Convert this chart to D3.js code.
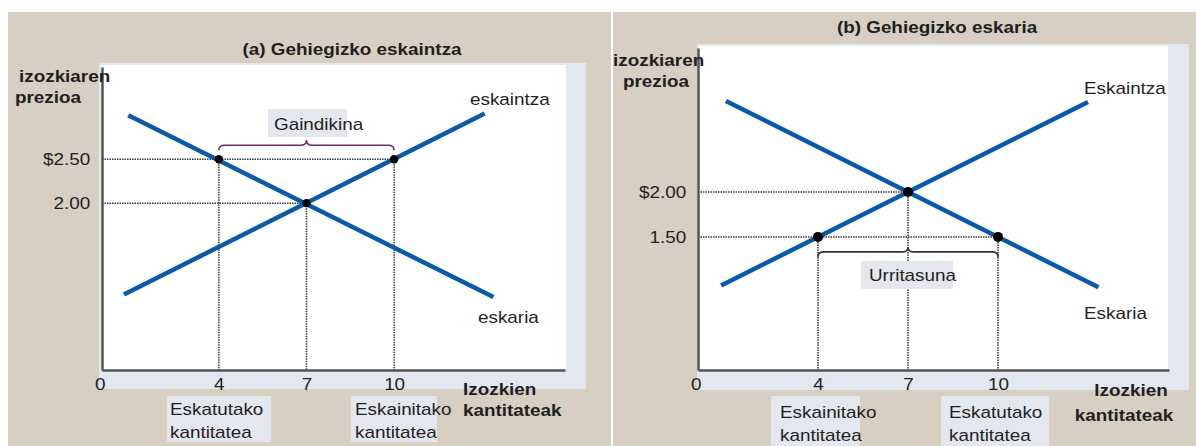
<!DOCTYPE html>
<html>
<head>
<meta charset="utf-8">
<script src="https://cdn.jsdelivr.net/npm/d3@7/dist/d3.min.js"></script>
<style>
  html, body { margin: 0; padding: 0; background: #fff; }
  svg { display: block; }
  text { font-family: "Liberation Sans", Arial, sans-serif; fill: #1f1f1f; }
</style>
</head>
<body>
<svg id="main" width="1196" height="446"></svg>
<script>
// data
var qTicks = [0, 4, 7, 10];
var titles = ["(a) Gehiegizko eskaintza", "(b) Gehiegizko eskaria"];
var priceTicksA = [2.5, 2.0];
var priceLabelsA = ["$2.50", "2.00"];
var priceTicksB = [2.0, 1.5];
var priceLabelsB = ["$2.00", "1.50"];
var supplyA = [[0.75, 0.96], [13.1, 3.02]];
var demandA = [[0.9, 3.0], [13.4, 0.93]];
var pointsA = [[4, 2.5], [10, 2.5], [7, 2.0]];
var supplyB = [[0.77, 0.96], [13.0, 3.0]];
var demandB = [[0.93, 3.01], [13.35, 0.94]];
var pointsB = [[4, 1.5], [10, 1.5], [7, 2.0]];
var gapA = [4, 10, 2.5];   // Gaindikina
var gapB = [4, 10, 1.5];   // Urritasuna

var SX = 1.18; // the original text is a bit stretched sideways
var BLUE = "#0b5aa8";

var svg = d3.select("#main");

// beige panels
svg.append("rect").attr("x", 8).attr("y", 12).attr("width", 603).attr("height", 434).attr("fill", "#d6cfc2");
svg.append("rect").attr("x", 613).attr("y", 12).attr("width", 583).attr("height", 434).attr("fill", "#d6cfc2");

function label(g, str, x, y, opt) {
    opt = opt || {};
    return g.append("text")
        .attr("transform", "translate(" + x + "," + y + ") scale(" + SX + ",1)")
        .attr("font-size", 16)
        .attr("font-weight", opt.bold ? "bold" : null)
        .attr("text-anchor", opt.anchor || "start")
        .text(str);
}

function panel(cfg) {
    var g = svg.append("g");

    // plot frame
    g.append("rect").attr("x", cfg.frame[0]).attr("y", cfg.frame[1])
        .attr("width", cfg.frame[2]).attr("height", cfg.frame[3]).attr("fill", "#e3e7ef");
    g.append("rect").attr("x", cfg.plot[0]).attr("y", cfg.plot[1])
        .attr("width", cfg.plot[2]).attr("height", cfg.plot[3]).attr("fill", "#fff");

    var x = d3.scaleLinear().domain(cfg.xDomain).range(cfg.xRange);
    var y = d3.scaleLinear().domain(cfg.yDomain).range(cfg.yRange);
    var x0 = cfg.xRange[0], y0 = cfg.yRange[0];

    // dotted guides
    var dots = g.append("g").attr("stroke", "#3a3a3a").attr("stroke-width", 1.5)
        .attr("stroke-dasharray", "1.5,1").attr("fill", "none");
    cfg.ticksP.forEach(function (p) {
        var maxQ = d3.max(cfg.points.filter(function (d) { return d[1] === p; }), function (d) { return d[0]; });
        dots.append("line").attr("x1", x0).attr("x2", x(maxQ)).attr("y1", y(p)).attr("y2", y(p));
    });
    cfg.points.forEach(function (d) {
        dots.append("line").attr("x1", x(d[0])).attr("x2", x(d[0])).attr("y1", y(d[1])).attr("y2", y0);
    });

    // curves
    var line = d3.line().x(function (d) { return x(d[0]); }).y(function (d) { return y(d[1]); });
    [cfg.supply, cfg.demand].forEach(function (s) {
        g.append("path").datum(s).attr("d", line).attr("fill", "none")
            .attr("stroke", BLUE).attr("stroke-width", 4.5);
    });

    // axes
    var ax = g.append("g").attr("transform", "translate(0," + y0 + ")")
        .call(d3.axisBottom(x).tickValues(qTicks).tickSize(0).tickPadding(9).tickFormat(d3.format("d")));
    var ay = g.append("g").attr("transform", "translate(" + x0 + ",0)")
        .call(d3.axisLeft(y).tickValues(cfg.ticksP).tickSize(0).tickPadding(10)
            .tickFormat(function (d, i) { return cfg.labelsP[i]; }));
    [ax, ay].forEach(function (a) {
        a.select(".domain").attr("stroke", "#555").attr("stroke-width", 2.5);
        a.selectAll("text").attr("font-size", 16).attr("font-family", null).attr("fill", "#1f1f1f")
            .attr("transform", "scale(" + SX + ",1)");
    });
    ax.select(".tick text").attr("dx", -2);

    // equilibrium and gap points
    g.selectAll("circle.pt").data(cfg.points).enter().append("circle")
        .attr("cx", function (d) { return x(d[0]); })
        .attr("cy", function (d) { return y(d[1]); })
        .attr("r", cfg.r).attr("fill", "#000");

    // brace
    var bx1 = x(cfg.gap[0]), bx2 = x(cfg.gap[1]), cx = (bx1 + bx2) / 2;
    var s = cfg.braceDir, by = y(cfg.gap[2]) + cfg.braceOff, h = 5 * s;
    var bd = "M" + bx1 + "," + (by - h) + " Q" + bx1 + "," + by + " " + (bx1 + 6) + "," + by +
        " L" + (cx - 6) + "," + by + " Q" + cx + "," + by + " " + cx + "," + (by + h) +
        " Q" + cx + "," + by + " " + (cx + 6) + "," + by +
        " L" + (bx2 - 6) + "," + by + " Q" + bx2 + "," + by + " " + bx2 + "," + (by - h);
    g.append("path").attr("d", bd).attr("fill", "none").attr("stroke", cfg.braceColor).attr("stroke-width", 1.6);

    // boxed labels
    cfg.boxes.forEach(function (b) {
        g.append("rect").attr("x", b.box[0]).attr("y", b.box[1]).attr("width", b.box[2]).attr("height", b.box[3])
            .attr("fill", "#e4e7ed");
        b.lines.forEach(function (t, i) { label(g, t, b.tx, b.ty[i]); });
    });

    cfg.texts.forEach(function (t) { label(g, t[0], t[1], t[2], t[3]); });
    return g;
}

panel({
    frame: [99, 63, 487, 326], plot: [101, 65, 465, 305],
    xDomain: [0, 15.85], xRange: [102, 565],
    yDomain: [0.1, 3.55], yRange: [370, 67],
    ticksP: priceTicksA, labelsP: priceLabelsA,
    supply: supplyA, demand: demandA, points: pointsA, r: 4.2,
    gap: gapA, braceDir: -1, braceOff: -14, braceColor: "#6e2d62",
    boxes: [
        { box: [268, 109, 79, 28], tx: 274, ty: [130], lines: ["Gaindikina"] },
        { box: [167, 396, 104, 46], tx: 170, ty: [415, 438], lines: ["Eskatutako", "kantitatea"] },
        { box: [351, 396, 86, 46], tx: 355, ty: [415, 438], lines: ["Eskainitako", "kantitatea"] }
    ],
    texts: [
        [titles[0], 352, 55, { bold: true, anchor: "middle" }],
        ["izozkiaren", 19, 82, { bold: true }],
        ["prezioa", 15, 103, { bold: true }],
        ["eskaintza", 470, 105],
        ["eskaria", 478, 323],
        ["Izozkien", 463, 395, { bold: true }],
        ["kantitateak", 463, 416, { bold: true }]
    ]
});

panel({
    frame: [697, 44, 492, 346], plot: [699, 46, 469, 324],
    xDomain: [0, 15.7], xRange: [698, 1169],
    yDomain: [0.02, 3.6], yRange: [370, 48],
    ticksP: priceTicksB, labelsP: priceLabelsB,
    supply: supplyB, demand: demandB, points: pointsB, r: 5,
    gap: gapB, braceDir: -1, braceOff: 15, braceColor: "#333",
    boxes: [
        { box: [861, 261, 92, 28], tx: 869, ty: [281], lines: ["Urritasuna"] },
        { box: [771, 396, 89, 50], tx: 780, ty: [418, 441], lines: ["Eskainitako", "kantitatea"] },
        { box: [941, 396, 108, 50], tx: 949, ty: [418, 441], lines: ["Eskatutako", "kantitatea"] }
    ],
    texts: [
        [titles[1], 937, 33, { bold: true, anchor: "middle" }],
        ["izozkiaren", 613, 66, { bold: true }],
        ["prezioa", 623, 87, { bold: true }],
        ["Eskaintza", 1084, 94],
        ["Eskaria", 1084, 319],
        ["Izozkien", 1131, 396, { bold: true, anchor: "middle" }],
        ["kantitateak", 1124, 421, { bold: true, anchor: "middle" }]
    ]
});
</script>
</body>
</html>
